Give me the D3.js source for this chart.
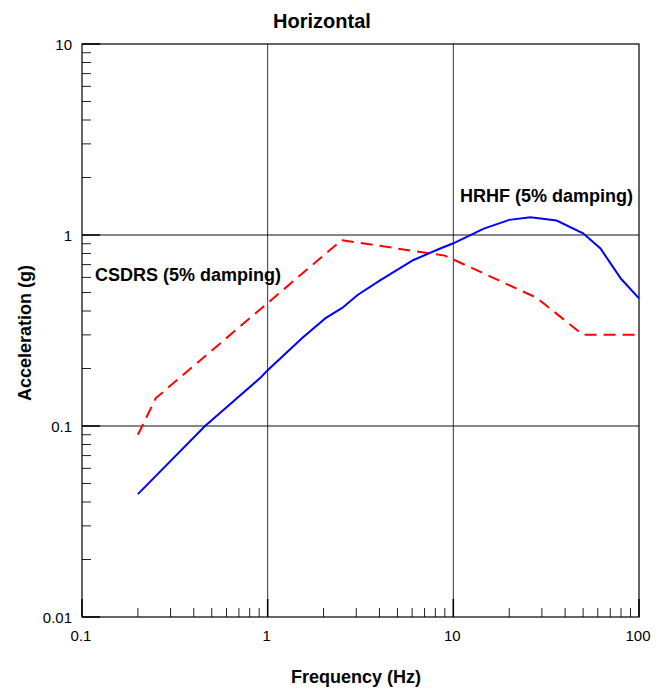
<!DOCTYPE html>
<html>
<head>
<meta charset='utf-8'>
<title>Horizontal</title>
<script src='https://d3js.org/d3.v7.min.js'></script>
<style>
    body { margin: 0; background: #fff; }
    svg { display: block; font-family: 'Liberation Sans', Arial, sans-serif; }
    .tick-label { font-size: 15px; fill: #000; }
    .label { font-size: 18px; font-weight: bold; fill: #000; }
</style>
</head>
<body>
<svg id='chart' width='664' height='691'></svg>
<script>
    // HRHF spectrum (Hz, g)
    const hrhfFreq = [0.2, 0.46, 0.92, 1.0, 1.54, 2.05, 2.52, 3.05, 4.05, 6.1, 8.5, 10, 14.6, 20, 26, 36, 50, 62, 80, 100];
    const hrhfAcc  = [0.044, 0.1, 0.18, 0.196, 0.29, 0.367, 0.415, 0.485, 0.58, 0.74, 0.85, 0.905, 1.08, 1.2, 1.24, 1.19, 1.02, 0.85, 0.59, 0.466];

    // CSDRS spectrum (Hz, g)
    const csdrsFreq = [0.2, 0.25, 2.5, 9, 28, 50, 100];
    const csdrsAcc  = [0.09, 0.14, 0.94, 0.78, 0.47, 0.3, 0.3];

    const xTickLabels = ['0.1', '1', '10', '100'];
    const yTickLabels = ['0.01', '0.1', '1', '10'];

    const svg = d3.select('#chart'),
        margin = {top: 44, right: 25, bottom: 74, left: 82},
        width = 664 - margin.left - margin.right,
        height = 691 - margin.top - margin.bottom;

    const x = d3.scaleLog().domain([0.1, 100]).range([0, width]);
    const y = d3.scaleLog().domain([0.01, 10]).range([height, 0]);

    const g = svg.append('g')
        .attr('transform', 'translate(' + margin.left + ',' + margin.top + ')');

    const decadesX = xTickLabels.map(Number);
    const decadesY = yTickLabels.map(Number);

    // minor ticks
    const minorX = [];
    decadesX.slice(0, -1).forEach(d => { for (let k = 2; k < 10; k++) minorX.push(d * k); });
    const minorY = [];
    decadesY.slice(0, -1).forEach(d => { for (let k = 2; k < 10; k++) minorY.push(d * k); });

    // grid lines at decades
    g.selectAll('.vgrid').data(decadesX.slice(1, -1)).enter().append('line')
        .attr('x1', d => x(d)).attr('x2', d => x(d))
        .attr('y1', 0).attr('y2', height)
        .attr('stroke', '#333').attr('stroke-width', 1);
    g.selectAll('.hgrid').data(decadesY.slice(1, -1)).enter().append('line')
        .attr('x1', 0).attr('x2', width)
        .attr('y1', d => y(d)).attr('y2', d => y(d))
        .attr('stroke', '#111').attr('stroke-width', 1);

    // minor ticks inside
    g.selectAll('.mx').data(minorX).enter().append('line')
        .attr('x1', d => x(d)).attr('x2', d => x(d))
        .attr('y1', height).attr('y2', height - 9)
        .attr('stroke', '#222');
    g.selectAll('.my').data(minorY).enter().append('line')
        .attr('x1', 0).attr('x2', 9)
        .attr('y1', d => y(d)).attr('y2', d => y(d))
        .attr('stroke', '#222');

    // major ticks
    g.selectAll('.Mx').data(decadesX).enter().append('line')
        .attr('x1', d => x(d)).attr('x2', d => x(d))
        .attr('y1', height).attr('y2', height - 18)
        .attr('stroke', '#000').attr('stroke-width', 1.5);
    g.selectAll('.My').data(decadesY).enter().append('line')
        .attr('x1', 0).attr('x2', 18)
        .attr('y1', d => y(d)).attr('y2', d => y(d))
        .attr('stroke', '#000').attr('stroke-width', 1.5);

    // frame
    g.append('rect')
        .attr('width', width).attr('height', height)
        .attr('fill', 'none').attr('stroke', '#000').attr('stroke-width', 1.2);

    // tick labels
    g.selectAll('.xl').data(xTickLabels).enter().append('text')
        .attr('class', 'tick-label')
        .attr('x', d => x(+d) - 1).attr('y', height + 24)
        .attr('text-anchor', 'middle')
        .text(d => d);
    g.selectAll('.yl').data(yTickLabels).enter().append('text')
        .attr('class', 'tick-label')
        .attr('x', -10).attr('y', d => y(+d) + 5.5)
        .attr('text-anchor', 'end')
        .text(d => d);

    const line = d3.line()
        .x(d => x(d[0]))
        .y(d => y(d[1]));

    g.append('path')
        .datum(d3.zip(csdrsFreq, csdrsAcc))
        .attr('fill', 'none')
        .attr('stroke', '#ff0000')
        .attr('stroke-width', 2)
        .attr('stroke-dasharray', '12,7')
        .attr('d', line);

    g.append('path')
        .datum(d3.zip(hrhfFreq, hrhfAcc))
        .attr('fill', 'none')
        .attr('stroke', '#0000ff')
        .attr('stroke-width', 2)
        .attr('d', line);

    // series labels
    svg.append('text').attr('class', 'label')
        .attr('x', 95).attr('y', 281).text('CSDRS (5% damping)');
    svg.append('text').attr('class', 'label')
        .attr('x', 460).attr('y', 202).text('HRHF (5% damping)');

    // titles
    svg.append('text').attr('class', 'label')
        .attr('x', 322).attr('y', 28).attr('text-anchor', 'middle')
        .style('font-size', '20px')
        .text('Horizontal');
    svg.append('text').attr('class', 'label')
        .attr('x', 356).attr('y', 683).attr('text-anchor', 'middle')
        .text('Frequency (Hz)');
    svg.append('text').attr('class', 'label')
        .attr('transform', 'translate(31,333) rotate(-90)')
        .attr('text-anchor', 'middle')
        .text('Acceleration (g)');
</script>
</body>
</html>
